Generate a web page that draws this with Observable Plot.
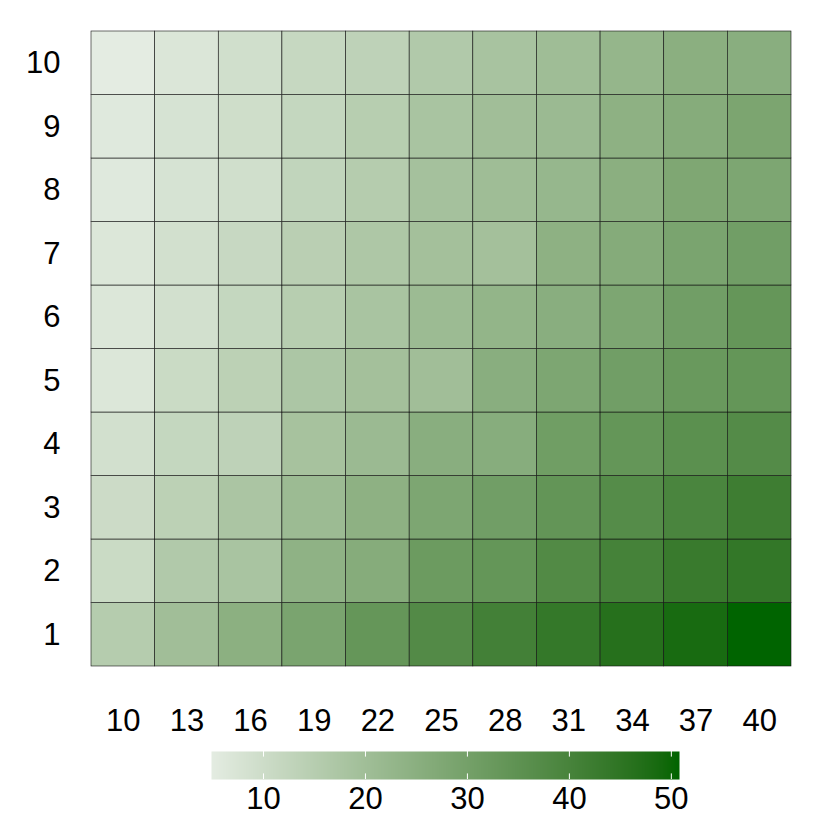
<!DOCTYPE html>
<html>
<head>
<meta charset="utf-8">
<script src="https://cdn.jsdelivr.net/npm/d3@7"></script>
<script src="https://cdn.jsdelivr.net/npm/@observablehq/plot@0.6"></script>
<style>
  html, body { margin: 0; padding: 0; background: #fff; }
  #chart { width: 830px; }
  svg { display: block; }
</style>
</head>
<body>
<div id="chart"></div>
<script>
const xCats = [10, 13, 16, 19, 22, 25, 28, 31, 34, 37, 40];
const yCats = [1, 2, 3, 4, 5, 6, 7, 8, 9, 10];
// values per row, y = 1 .. 10, columns follow xCats
const row1  = [15.3, 20.0, 24.7, 28.7, 33.5, 37.5, 41.0, 44.0, 46.5, 48.5, 50.8];
const row2  = [10.6, 16.3, 18.0, 24.0, 26.0, 32.0, 33.7, 37.8, 40.5, 43.0, 44.2];
const row3  = [10.3, 13.9, 17.6, 21.0, 24.3, 28.0, 30.7, 34.0, 37.0, 39.5, 42.0];
const row4  = [8.9, 11.9, 13.3, 18.6, 21.3, 25.3, 25.7, 31.0, 33.7, 35.7, 37.2];
const row5  = [6.6, 10.6, 13.9, 17.3, 19.3, 20.0, 25.3, 28.0, 30.7, 32.7, 33.7];
const row6  = [6.6, 8.9, 11.9, 14.9, 18.0, 21.0, 23.0, 25.3, 28.0, 30.7, 33.5];
const row7  = [6.6, 8.9, 11.3, 14.3, 17.0, 19.3, 19.3, 24.3, 26.3, 28.7, 30.7];
const row8  = [5.9, 7.9, 9.3, 12.6, 15.3, 19.0, 20.3, 22.3, 25.0, 27.7, 28.0];
const row9  = [5.9, 7.9, 9.6, 11.9, 14.9, 18.0, 20.0, 21.3, 24.3, 26.0, 28.4];
const row10 = [4.9, 6.9, 9.3, 11.6, 13.3, 16.3, 18.3, 20.3, 22.7, 25.0, 25.3];
const rows = [row1, row2, row3, row4, row5, row6, row7, row8, row9, row10];
const legendTicks = [10, 20, 30, 40, 50];
const colorDomain = [4.9, 50.8];
const colorRange = ["#e4ece2", "#006400"];

const cells = [];
yCats.forEach((y, i) => xCats.forEach((x, j) => cells.push({x, y, v: rows[i][j]})));

const font = "'Liberation Sans', Arial, Helvetica, sans-serif";
const colorOpts = {type: "linear", domain: colorDomain, range: colorRange, interpolate: "lab"};

const main = Plot.plot({
  width: 830,
  height: 745,
  marginTop: 31,
  marginBottom: 79,
  marginLeft: 91,
  marginRight: 39,
  style: {fontFamily: font, fontSize: "31px", color: "#000", background: "#fff"},
  x: {type: "band", domain: xCats, padding: 0, round: false, label: null, tickSize: 0, tickPadding: 42},
  y: {type: "band", domain: yCats.slice().reverse(), padding: 0, round: false, label: null, tickSize: 0, tickPadding: 31},
  color: colorOpts,
  marks: [
    Plot.cell(cells, {x: "x", y: "y", fill: "v", stroke: "#111", strokeWidth: 0.6, inset: 0})
  ]
});

const legend = Plot.plot({
  width: 830,
  height: 85,
  marginTop: 6,
  marginBottom: 51,
  marginLeft: 211,
  marginRight: 151,
  style: {fontFamily: font, fontSize: "31px", color: "#000", background: "#fff"},
  x: {type: "linear", domain: colorDomain, label: null, ticks: legendTicks, tickSize: 0, tickPadding: 7},
  y: {type: "linear", domain: [0, 1], axis: null},
  color: colorOpts,
  marks: [
    Plot.raster({fill: (x, y) => x, x1: colorDomain[0], x2: colorDomain[1], y1: 0, y2: 1, interpolate: null}),
    Plot.ruleX(legendTicks, {x: d => d, y1: 0, y2: 0.2, stroke: "#fff", strokeWidth: 1}),
    Plot.ruleX(legendTicks, {x: d => d, y1: 0.8, y2: 1, stroke: "#fff", strokeWidth: 1})
  ]
});

const host = document.getElementById("chart");
host.appendChild(main);
host.appendChild(legend);
</script>
</body>
</html>
